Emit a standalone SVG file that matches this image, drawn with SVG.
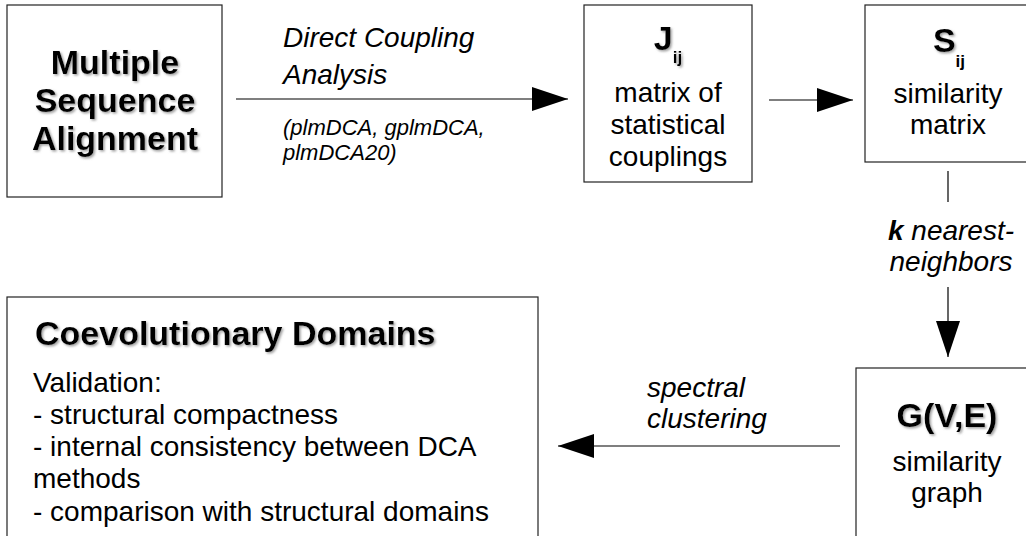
<svg xmlns="http://www.w3.org/2000/svg" width="1026" height="536" viewBox="0 0 1026 536">
<style>
  .box{fill:#fff;stroke:#222;stroke-width:1.2}
  .t{font-family:"Liberation Sans",Arial,sans-serif;font-size:28px;fill:#000}
  .b{font-weight:bold;font-size:34px;filter:url(#sh)}
  .i{font-style:italic}
  .s{font-size:22px}
  .c{text-anchor:middle}
  .ln{stroke:#000;stroke-width:1.2;fill:none}
</style>
<defs>
  <filter id="sh" x="-10%" y="-20%" width="130%" height="150%">
    <feDropShadow dx="1.5" dy="1.5" stdDeviation="1" flood-color="#888" flood-opacity="0.8"/>
  </filter>
  <marker id="ah" viewBox="0 0 36 24" refX="36" refY="12" markerWidth="36" markerHeight="24" markerUnits="userSpaceOnUse" orient="auto">
    <path d="M0,0 L36,12 L0,24 Z" fill="#000"/>
  </marker>
</defs>
<rect width="1026" height="536" fill="#fff"/>

<g id="connectors">
  <line class="ln" x1="236" y1="99" x2="568" y2="99" marker-end="url(#ah)"/>
  <line class="ln" x1="769" y1="100" x2="853" y2="100" marker-end="url(#ah)"/>
  <line class="ln" x1="948" y1="171" x2="948" y2="202"/>
  <line class="ln" x1="948" y1="287" x2="948" y2="357" marker-end="url(#ah)"/>
  <line class="ln" x1="840" y1="446" x2="558" y2="446" marker-end="url(#ah)"/>
  <text class="t i" x="283" y="47">Direct Coupling</text>
  <text class="t i" x="283" y="84">Analysis</text>
  <text class="t i s" x="283" y="135">(plmDCA, gplmDCA,</text>
  <text class="t i s" x="283" y="160">plmDCA20)</text>
  <text class="t i c" x="951" y="240"><tspan font-weight="bold">k</tspan> nearest-</text>
  <text class="t i c" x="951" y="271">neighbors</text>
  <text class="t i" x="647" y="397">spectral</text>
  <text class="t i" x="647" y="428">clustering</text>
</g>

<g id="msa">
  <rect class="box" x="7" y="5" width="215" height="192"/>
  <text class="t b c" x="115" y="74">Multiple</text>
  <text class="t b c" x="115" y="112">Sequence</text>
  <text class="t b c" x="115" y="150">Alignment</text>
</g>

<g id="jij">
  <rect class="box" x="584" y="5" width="168" height="177"/>
  <text class="t c" x="668" y="50"><tspan class="b" font-size="31">J</tspan><tspan font-weight="bold" font-size="17" dy="13" filter="url(#sh)">ij</tspan></text>
  <text class="t c" x="668" y="102">matrix of</text>
  <text class="t c" x="668" y="134">statistical</text>
  <text class="t c" x="668" y="166">couplings</text>
</g>

<g id="sij">
  <rect class="box" x="865" y="5" width="170" height="157"/>
  <text class="t c" x="949" y="52"><tspan class="b" font-size="33">S</tspan><tspan font-weight="bold" font-size="17" dy="15">ij</tspan></text>
  <text class="t c" x="948" y="103">similarity</text>
  <text class="t c" x="948" y="134">matrix</text>
</g>

<g id="graph">
  <rect class="box" x="856" y="368" width="180" height="180"/>
  <text class="t b c" x="947" y="427">G(V,E)</text>
  <text class="t c" x="947" y="471">similarity</text>
  <text class="t c" x="947" y="502">graph</text>
</g>

<g id="domains">
  <rect class="box" x="7" y="297" width="531" height="250"/>
  <text class="t b" x="35" y="345" font-size="33.5">Coevolutionary Domains</text>
  <text class="t" x="33" y="392">Validation:</text>
  <text class="t" x="33" y="424">- structural compactness</text>
  <text class="t" x="33" y="456">- internal consistency between DCA</text>
  <text class="t" x="33" y="488">methods</text>
  <text class="t" x="33" y="521">- comparison with structural domains</text>
</g>
</svg>
